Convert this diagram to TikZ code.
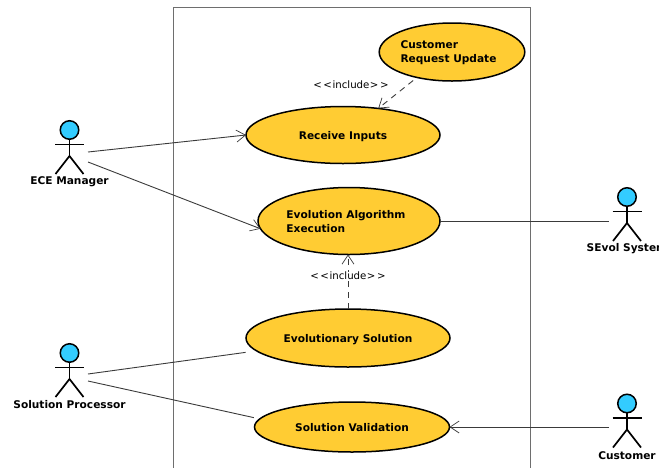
\documentclass[tikz,border=0pt]{standalone}
\usepackage{fontspec}
\setmainfont{DejaVu Sans}
\usetikzlibrary{arrows.meta,shapes.geometric}
\definecolor{ucyellow}{HTML}{FFCC33}
\definecolor{uccyan}{HTML}{33CCFF}
\definecolor{frameline}{HTML}{6E6E6E}
\definecolor{linkline}{HTML}{3A3A3A}
\tikzset{
  usecase/.style={ellipse,draw=black,line width=1.5pt,fill=ucyellow,inner sep=0pt,outer sep=0pt,
    align=left,text depth=0pt,font=\fontsize{10.6pt}{14pt}\selectfont\bfseries},
  actorhead/.style={circle,draw=black,line width=1.5pt,fill=uccyan,minimum size=18.5pt,inner sep=0pt,outer sep=0pt},
  actorlimb/.style={draw=black,line width=1.7pt},
  actorname/.style={font=\fontsize{10.6pt}{12pt}\selectfont\bfseries,inner sep=0pt},
  assoc/.style={draw=linkline,line width=0.9pt},
  openhead/.style={-{Straight Barb[length=9pt,width=12pt,line width=0.7pt]}},
  incl/.style={assoc,dashed,dash pattern=on 6pt off 5pt},
  incllabel/.style={font=\fontsize{10.2pt}{12pt}\selectfont,fill=white,inner sep=0.5pt},
  pics/actor/.style n args={1}{code={
    \node[actorhead] (-head) at (0,0) {};
    \coordinate (-hip) at (0,26);
    \draw[actorlimb] (-head.south) -- (-hip);
    \draw[actorlimb] (-14.5,14.5) -- (14.5,14.5);
    \draw[actorlimb] (-14,44) -- (-hip) -- (14,44);
    \node[actorname] (-name) at (0,52) {#1};
  }}
}
\newcommand{\incltext}{<\kern1.5pt<\kern0.5pt include\kern0.5pt >\kern1.5pt>}
\begin{document}
\begin{tikzpicture}[x=1pt,y=-1pt]
\clip (0,0) rectangle (659,467);
\draw[frameline,line width=0.9pt] (173.5,475) -- (173.5,7) -- (530,7) -- (530,475);

\node[usecase,minimum width=144pt,minimum height=58pt] (cru) at (452,52) {Customer\\Request Update\hspace*{7pt}};
\node[usecase,minimum width=194pt,minimum height=57pt] (recv) at (343,135) {Receive Inputs};
\node[usecase,minimum width=182pt,minimum height=67pt] (evo) at (349,221) {Evolution Algorithm\hspace*{6pt}\\Execution};
\node[usecase,minimum width=204pt,minimum height=58pt] (evsol) at (348,338) {Evolutionary Solution};
\node[usecase,minimum width=195pt,minimum height=50pt] (valid) at (352,427) {Solution Validation};

\pic (ece) at (69.5,130) {actor={ECE Manager}};
\pic (sevol) at (627,197) {actor={SEvol System}};
\pic (proc) at (69.5,353) {actor={Solution Processor}};
\pic (cust) at (627,403.5) {actor={Customer}};

\coordinate (eceA) at (88,152);
\coordinate (eceB) at (88,162);
\coordinate (procA) at (88,374);
\coordinate (procB) at (88,381);
\coordinate (sevolA) at (609,221);
\coordinate (custA) at (609,427);

\draw[assoc,openhead] (eceA) -- (recv.west);
\draw[assoc,openhead] (eceB) -- (evo.185);
\draw[assoc,shorten >=11pt] (procA) -- (evsol.188);
\draw[assoc,shorten >=6pt] (procB) -- (valid.175);
\draw[assoc] (evo.east) -- (sevolA);
\draw[assoc,openhead] (custA) -- (valid.east);

\draw[incl,openhead,shorten <=5pt] (cru.216) -- (recv.37);
\draw[incl,openhead] (evsol.north) -- (evsol.north |- evo.south);
\node[incllabel] (la) at (351,85) {\incltext};
\node[incllabel] (lb) at (348,276) {\incltext};
\end{tikzpicture}
\end{document}
